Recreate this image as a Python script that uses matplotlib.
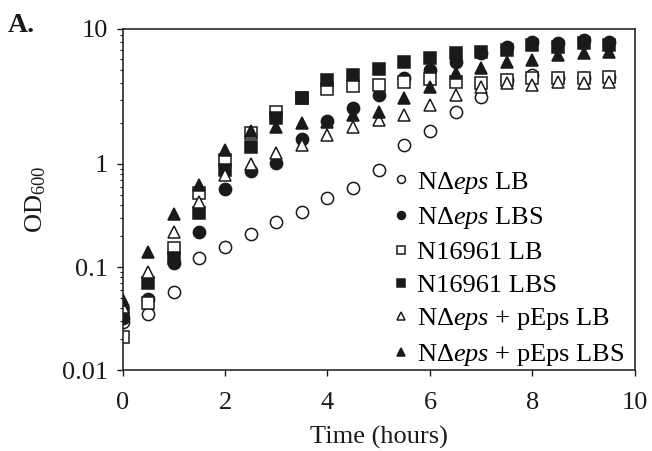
import matplotlib
matplotlib.use("Agg")
import matplotlib.pyplot as plt
import numpy as np
from matplotlib.ticker import FixedLocator, FixedFormatter, LogLocator, NullFormatter

plt.rcParams['font.family'] = ['Liberation Serif', 'DejaVu Serif']
plt.rcParams['mathtext.fontset'] = 'custom'
plt.rcParams['mathtext.rm'] = 'Liberation Serif'
plt.rcParams['mathtext.it'] = 'Liberation Serif:italic'
plt.rcParams['mathtext.default'] = 'regular'

# Sampling times (hours)
hours = [0, 0.5, 1, 1.5, 2, 2.5, 3, 3.5, 4, 4.5, 5, 5.5, 6, 6.5, 7, 7.5, 8, 8.5, 9, 9.5]

# OD600 readings per strain / medium
neps_lb = [0.029, 0.035, 0.057, 0.122, 0.156, 0.209, 0.273, 0.342, 0.468, 0.585,
           0.87, 1.38, 1.76, 2.43, 3.13, 4.19, 4.56, 4.34, 4.34, 4.41]
neps_lbs = [0.032, 0.049, 0.109, 0.219, 0.572, 0.855, 1.02, 1.53, 2.08, 2.60,
            3.24, 4.34, 4.97, 5.70, 6.6, 7.36, 8.0, 7.87, 8.29, 8.0]
n16961_lb = [0.021, 0.045, 0.153, 0.523, 1.07, 1.70, 2.43, 3.1, 3.59, 3.78,
             3.85, 4.05, 4.26, 4.05, 3.98, 4.19, 4.34, 4.34, 4.34, 4.41]
n16961_lbs = [0.036, 0.070, 0.122, 0.334, 0.875, 1.34, 2.19, 3.08, 4.19, 4.56,
              5.05, 5.70, 6.10, 6.64, 6.76, 6.99, 7.61, 7.36, 7.87, 7.61]
peps_lb = [0.041, 0.089, 0.219, 0.428, 0.78, 1.0, 1.21, 1.38, 1.64, 1.88,
           2.12, 2.31, 2.74, 3.24, 3.72, 3.98, 3.85, 4.05, 3.98, 4.05]
peps_lbs = [0.048, 0.14, 0.327, 0.625, 1.27, 1.76, 1.88, 2.01, 2.05, 2.31,
            2.43, 3.08, 3.72, 4.72, 5.14, 5.70, 5.89, 6.42, 6.64, 6.76]

labels = ["N\u0394$\\mathit{eps}$ LB", "N\u0394$\\mathit{eps}$ LBS", "N16961 LB", "N16961 LBS",
          "N\u0394$\\mathit{eps}$ + pEps LB", "N\u0394$\\mathit{eps}$ + pEps LBS"]
y_ticks = [0.01, 0.1, 1, 10]
y_ticklabels = ["0.01", "0.1", "1", "10"]
x_ticks = [0, 2, 4, 6, 8, 10]

# the printed log axis has a taller top decade than the lower two
decade_pos = [0, 103, 206, 341]
decade_log = [-2, -1, 0, 1]


def fwd(v):
    v = np.clip(np.asarray(v, dtype=float), 1e-6, None)
    return np.interp(np.log10(v), decade_log, decade_pos)


def inv(p):
    return 10 ** np.interp(p, decade_pos, decade_log)


fig = plt.figure(figsize=(6.52, 4.51), dpi=100)
ax = fig.add_axes([0.1879, 0.1796, 0.7860, 0.7561])

ink = "#1a1a1a"
series = [neps_lb, neps_lbs, n16961_lb, n16961_lbs, peps_lb, peps_lbs]
markers = ["o", "o", "s", "s", "^", "^"]
filled = [False, True, False, True, False, True]
sizes = [8.8, 8.8, 8.2, 8.2, 9.2, 9.2]

for vals, m, f, s, lab in zip(series, markers, filled, sizes, labels):
    ax.plot(hours, vals, linestyle="none", marker=m, markersize=s,
            markerfacecolor=ink if f else "white", markeredgecolor=ink,
            markeredgewidth=1.1, label=lab)

ax.set_yscale("function", functions=(fwd, inv))
ax.set_ylim(0.01, 10)
ax.set_xlim(0, 10)
ax.yaxis.set_major_locator(FixedLocator(y_ticks))
ax.yaxis.set_major_formatter(FixedFormatter(y_ticklabels))
ax.yaxis.set_minor_locator(LogLocator(base=10, subs=np.arange(2, 10)))
ax.yaxis.set_minor_formatter(NullFormatter())
ax.set_xticks(x_ticks)

for sp in ax.spines.values():
    sp.set_linewidth(1.1)
    sp.set_color(ink)

ax.tick_params(axis="both", which="major", direction="out", length=4.5, width=1.0,
               colors=ink, labelsize=19)
ax.tick_params(axis="x", which="major", pad=11)
ax.tick_params(axis="y", which="major", pad=6)
ax.tick_params(axis="y", which="minor", direction="out", length=2.5, width=0.8, colors=ink)

ax.set_xlabel("Time (hours)", fontsize=19, labelpad=9, color=ink)
ax.set_ylabel("OD$_{600}$", fontsize=19, labelpad=10, color=ink)

ax.legend(loc="lower right", bbox_to_anchor=(1.0, -0.025), frameon=False, fontsize=19,
          markerscale=0.65, handlelength=0.6, handletextpad=0.3, labelspacing=0.36,
          borderaxespad=0.2, borderpad=0.2)

fig.text(0.012, 0.929, "A.", fontsize=20, fontweight="bold", va="baseline", color=ink)

fig.savefig("out.png", dpi=100)
